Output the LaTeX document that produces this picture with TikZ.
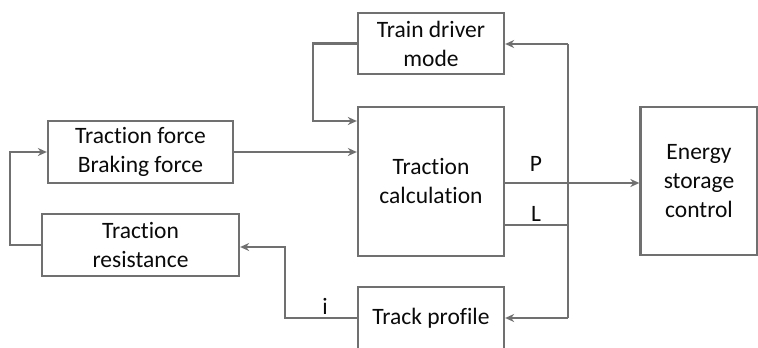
\documentclass[tikz,border=0pt]{standalone}
\usepackage{fontspec}
\setmainfont{Carlito}[Ligatures=NoCommon]
\usetikzlibrary{arrows.meta,calc}
\definecolor{lin}{RGB}{112,112,112}
\definecolor{txt}{RGB}{10,10,10}
\begin{document}
\begin{tikzpicture}[x=1pt,y=-1pt,
  blk/.style={draw=lin,line width=2.3pt,rectangle,inner sep=0pt,align=center,
    text=txt,font=\fontsize{23.5}{29}\selectfont},
  arr/.style={draw=lin,line width=2.3pt,-{Stealth[length=9pt,width=8pt]}},
  ln/.style={draw=lin,line width=2.3pt},
  lab/.style={text=txt,font=\fontsize{23.5}{29}\selectfont,inner sep=0pt}]
\useasboundingbox (0,0) rectangle (758,348);
\node[blk,minimum width=146pt,minimum height=61pt] (driver) at (431,43.5) {Train driver\\mode};
\node[blk,minimum width=146pt,minimum height=149pt] (calc) at (431,181.5) {Traction\\calculation};
\node[blk,minimum width=146pt,minimum height=62pt] (track) at (431,318) {Track profile};
\node[blk,minimum width=117pt,minimum height=148pt] (energy) at (699,181) {Energy\\storage\\control};
\node[blk,minimum width=185pt,minimum height=62pt] (force) at (140.5,152) {Traction force\\Braking force};
\node[blk,minimum width=197pt,minimum height=62pt] (resist) at (140.5,245) {Traction\\resistance};
% coordinates
\coordinate (d1) at (313,43.5);
\coordinate (d2) at (313,121);
\coordinate (rtop) at (568,44);
\coordinate (rbot) at (568,318);
\coordinate (lpt) at (568,225);
\coordinate (ppt) at (504,183);
\coordinate (t1) at (285,318);
\coordinate (t2) at (285,247);
\coordinate (r1) at (10,245);
\coordinate (r2) at (10,152);
% connectors
\draw[arr] (force.east) -- (force.east -| calc.west);
\draw[arr] (driver.west) -- (d1) -- (d2) -- (d2 -| calc.west);
\draw[ln] (rtop) -- (rbot);
\draw[arr] (rtop) -- (rtop -| driver.east);
\draw[arr] (rbot) -- (rbot -| track.east);
\draw[ln] (lpt -| calc.east) -- (lpt);
\draw[arr] (ppt) -- (ppt -| energy.west);
\draw[arr] (track.west) -- (t1) -- (t2) -- (t2 -| resist.east);
\draw[arr] (resist.west) -- (r1) -- (r2) -- (force.west);
% labels
\node[lab] (lP) at (536,164) {P};
\node[lab] (lL) at (536,214) {L};
\node[lab] (li) at (325,306) {i};
\end{tikzpicture}
\end{document}
